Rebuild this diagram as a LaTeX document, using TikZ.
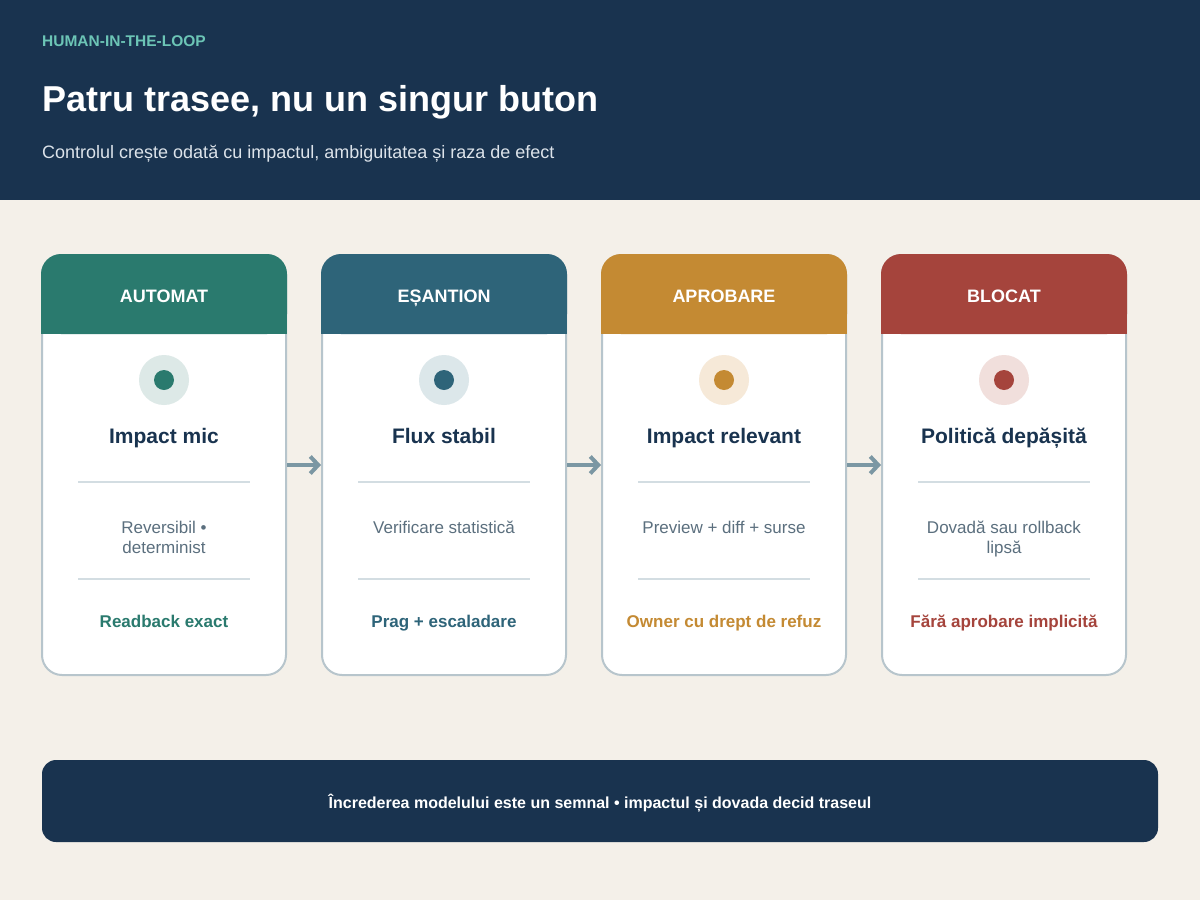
\documentclass[tikz,border=0pt]{standalone}
\usepackage{fontspec}
\setmainfont{Liberation Sans}
\usetikzlibrary{arrows.meta,positioning}
\definecolor{navy}{HTML}{19334F}
\definecolor{paper}{HTML}{F4F0E9}
\definecolor{mint}{HTML}{6CC5B6}
\definecolor{pale}{HTML}{DCE3EA}
\definecolor{rim}{HTML}{B7C5CC}
\definecolor{sep}{HTML}{D3DDE2}
\definecolor{muted}{HTML}{5B6F7E}
\definecolor{flowc}{HTML}{7B97A3}
\definecolor{cA}{HTML}{2A7A6E}
\definecolor{cB}{HTML}{2E6479}
\definecolor{cC}{HTML}{C48A33}
\definecolor{cD}{HTML}{A5443C}
\definecolor{lA}{HTML}{DDE9E7}
\definecolor{lB}{HTML}{DCE7EA}
\definecolor{lC}{HTML}{F6E9D8}
\definecolor{lD}{HTML}{F1DFDC}
\tikzset{
  card/.style={draw=rim, line width=2pt, fill=white, rounded corners=20pt,
    minimum width=244pt, minimum height=420pt},
  head/.style={rounded corners=20pt, minimum width=246pt, minimum height=80pt},
  htext/.style={anchor=base, inner sep=0pt, text=white, font=\bfseries\fontsize{18}{21}\selectfont},
  halo/.style={circle, minimum size=50pt, inner sep=0pt},
  dot/.style={circle, minimum size=20pt, inner sep=0pt},
  ctitle/.style={anchor=base, inner sep=0pt, text=navy, font=\bfseries\fontsize{21}{25}\selectfont},
  desc/.style={text=muted, align=center, inner sep=0pt, anchor=north,
    font=\fontsize{17}{20}\selectfont},
  rule/.style={anchor=base, inner sep=0pt, font=\bfseries\fontsize{17}{20}\selectfont},
  sepline/.style={draw=sep, line width=2pt},
  flow/.style={draw=flowc, line width=4pt,
    -{Straight Barb[length=8pt, width=17pt, line width=4pt]}}
}
\begin{document}
\begin{tikzpicture}[x=1pt, y=-1pt]
	\useasboundingbox (0,0) rectangle (1200,900);
	\fill[paper] (0,0) rectangle (1200,900);
	\fill[navy] (0,0) rectangle (1200,200);
	% title band
	\node (tag) [anchor=base west, inner sep=0pt, text=mint, font=\bfseries\fontsize{15.5}{18}\selectfont] at (42,46) {HUMAN-IN-THE-LOOP};
	\node (title) [anchor=base west, inner sep=0pt, text=white, font=\bfseries\fontsize{36}{42}\selectfont] at (42,111) {Patru trasee, nu un singur buton};
	\node (sub) [anchor=base west, inner sep=0pt, text=pale, font=\fontsize{18}{21}\selectfont] at (42,158) {Controlul crește odată cu impactul, ambiguitatea și raza de efect};
	% cards
	\node (A) [card] at (164,465) {};
	\node (B) [card] at (444,465) {};
	\node (C) [card] at (724,465) {};
	\node (D) [card] at (1004,465) {};
	\fill[cA] (41,300) rectangle (287,334);
	\fill[cB] (321,300) rectangle (567,334);
	\fill[cC] (601,300) rectangle (847,334);
	\fill[cD] (881,300) rectangle (1127,334);
	\node (hA) [head, fill=cA] at (164,294) {};
	\node (hB) [head, fill=cB] at (444,294) {};
	\node (hC) [head, fill=cC] at (724,294) {};
	\node (hD) [head, fill=cD] at (1004,294) {};
	\node (nA) [htext] at (164,302.5) {AUTOMAT};
	\node (nB) [htext] at (444,302.5) {EȘANTION};
	\node (nC) [htext] at (724,302.5) {APROBARE};
	\node (nD) [htext] at (1004,302.5) {BLOCAT};
	\node (dA) [halo, fill=lA, node distance=86pt, below of=hA] {};
	\node (dB) [halo, fill=lB, node distance=86pt, below of=hB] {};
	\node (dC) [halo, fill=lC, node distance=86pt, below of=hC] {};
	\node (dD) [halo, fill=lD, node distance=86pt, below of=hD] {};
	\node (iA) [dot, fill=cA] at (dA) {};
	\node (iB) [dot, fill=cB] at (dB) {};
	\node (iC) [dot, fill=cC] at (dC) {};
	\node (iD) [dot, fill=cD] at (dD) {};
	\node (tA) [ctitle] at (164,443) {Impact mic};
	\node (tB) [ctitle] at (444,443) {Flux stabil};
	\node (tC) [ctitle] at (724,443) {Impact relevant};
	\node (tD) [ctitle] at (1004,443) {Politică depășită};
	\draw[sepline] (78,482) -- (250,482);
	\draw[sepline] (358,482) -- (530,482);
	\draw[sepline] (638,482) -- (810,482);
	\draw[sepline] (918,482) -- (1090,482);
	\node (sA) [desc] at (164,520.5) {Reversibil •\\determinist};
	\node (sB) [desc] at (444,520.5) {Verificare statistică};
	\node (sC) [desc] at (724,520.5) {Preview + diff + surse};
	\node (sD) [desc] at (1004,520.5) {Dovadă sau rollback\\lipsă};
	\draw[sepline] (78,579) -- (250,579);
	\draw[sepline] (358,579) -- (530,579);
	\draw[sepline] (638,579) -- (810,579);
	\draw[sepline] (918,579) -- (1090,579);
	\node (rA) [rule, text=cA] at (164,627) {Readback exact};
	\node (rB) [rule, text=cB] at (444,627) {Prag + escaladare};
	\node (rC) [rule, text=cC] at (724,627) {Owner cu drept de refuz};
	\node (rD) [rule, text=cD] at (1004,627) {Fără aprobare implicită};
	% flow between cards
	\draw[flow] (A) -- (B);
	\draw[flow] (B) -- (C);
	\draw[flow] (C) -- (D);
	% footer
	\node (foot) [fill=navy, rounded corners=14pt, minimum width=1116pt, minimum height=82pt] at (600,801) {};
	\node (ftext) [anchor=base, inner sep=0pt, text=white, font=\bfseries\fontsize{16}{19}\selectfont] at (600,808)
		{Încrederea modelului este un semnal • impactul și dovada decid traseul};
\end{tikzpicture}
\end{document}
